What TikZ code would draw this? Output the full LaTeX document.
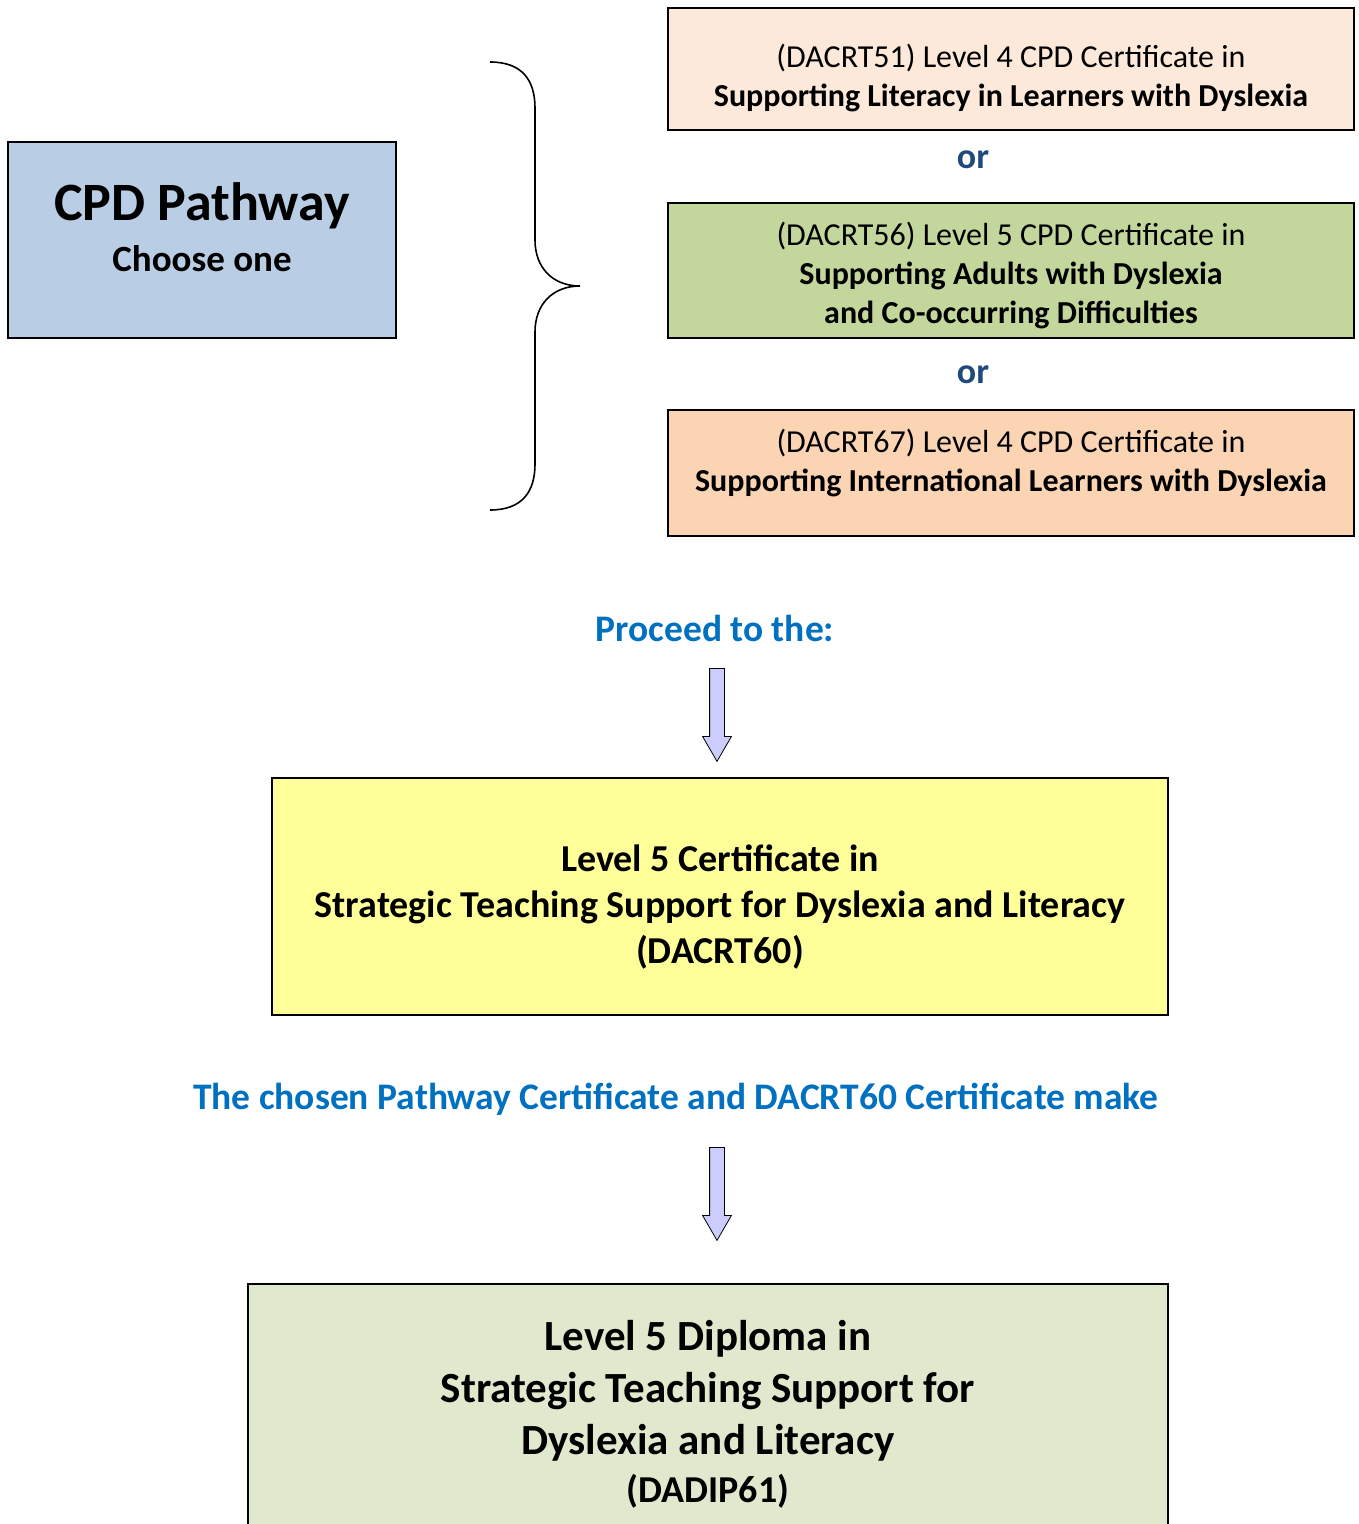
\documentclass[tikz,border=0pt]{standalone}
\usepackage{fontspec}
\setmainfont{Carlito}
\usetikzlibrary{shapes.arrows}
\definecolor{pathblue}{HTML}{B9CDE4}
\definecolor{peach}{HTML}{FDE9DA}
\definecolor{olive}{HTML}{C3D69B}
\definecolor{apricot}{HTML}{FBD4B4}
\definecolor{lemon}{HTML}{FFFF99}
\definecolor{sage}{HTML}{E0E9CD}
\definecolor{ordark}{HTML}{1F497D}
\definecolor{linkblue}{HTML}{0070C0}
\definecolor{lavender}{HTML}{CCCCFF}
\tikzset{
        box/.style={draw=black, line width=1.6pt, inner sep=0pt},
        certbox/.style={box, minimum width=686pt},
        boxtext/.style={align=center, inner sep=0pt},
        certtext/.style={boxtext, font=\fontsize{32}{39}\selectfont},
        ortext/.style={text=ordark, font=\fontsize{36}{40}\selectfont\bfseries},
        bluetext/.style={text=linkblue, font=\fontsize{37.5}{44}\selectfont\bfseries},
        downarrow/.style={single arrow, draw=black, line width=0.8pt, fill=lavender, rotate=-90,
          minimum height=93pt, minimum width=28pt, single arrow head extend=7pt,
          single arrow tip angle=60, inner sep=7pt},
        bracepath/.style={draw=black, line width=1.6pt}
          }
\begin{document}
\begin{tikzpicture}[x=1pt, y=-1pt]
        \useasboundingbox (0,0) rectangle (1358,1524);
        % pathway box on the left
        \node[box, fill=pathblue, minimum width=388pt, minimum height=196pt] (cpd) at (202,240) {};
        \node[boxtext] (cpdtext) at (202,227)
          {\fontsize{54}{56}\selectfont\bfseries CPD Pathway\\[15pt]
           \fontsize{37}{44}\selectfont\bfseries Choose one};
        % the three certificates
        \node[certbox, fill=peach, minimum height=122pt] (dacrt51) at (1011,69) {};
        \node[certtext] (dacrt51text) at (1011,78)
          {(DACRT51) Level 4 CPD Certificate in\\
           \bfseries Supporting Literacy in Learners with Dyslexia};
        \node[ortext] (or1) at (973,160) {or};
        \node[certbox, fill=olive, minimum height=135pt] (dacrt56) at (1011,270.5) {};
        \node[certtext] (dacrt56text) at (1011,275.5)
          {(DACRT56) Level 5 CPD Certificate in\\
           \bfseries Supporting Adults with Dyslexia\\
           \bfseries and Co-occurring Difficulties};
        \node[ortext] (or2) at (973,375) {or};
        \node[certbox, fill=apricot, minimum height=126pt] (dacrt67) at (1011,473) {};
        \node[certtext] (dacrt67text) at (1011,463)
          {(DACRT67) Level 4 CPD Certificate in\\
           \bfseries Supporting International Learners with Dyslexia};
        % brace
        \coordinate (bracetop) at (490,62);
        \coordinate (bracetip) at (580,286);
        \coordinate (bracebot) at (490,510);
        \path[bracepath] (bracetop) .. controls (522,62) and (535,80) .. (535,108) -- (535,240)
          .. controls (535,268) and (553,286) .. (bracetip)
          .. controls (553,286) and (535,304) .. (535,332) -- (535,464)
          .. controls (535,492) and (522,510) .. (bracebot);
        % next step
        \node[bluetext] (proceed) at (715,628) {Proceed to the:};
        \node[downarrow] (arrow1) at (717,708.5) {};
        \node[box, fill=lemon, minimum width=896pt, minimum height=237pt] (dacrt60) at (720,896.5) {};
        \node[boxtext, font=\fontsize{38}{46}\selectfont\bfseries] (dacrt60text) at (720,907)
          {Level 5 Certificate in\\
           Strategic Teaching Support for Dyslexia and Literacy\\
           (DACRT60)};
        \node[bluetext] (chosen) at (676,1099) {The chosen Pathway Certificate and DACRT60 Certificate make};
        \node[downarrow] (arrow2) at (717,1187.5) {};
        \node[box, fill=sage, minimum width=920pt, minimum height=250pt, anchor=north] (dadip61) at (708,1283) {};
        \node[boxtext, font=\fontsize{43}{52}\selectfont\bfseries] (dadip61text) at (708,1414)
          {Level 5 Diploma in\\
           Strategic Teaching Support for\\
           Dyslexia and Literacy\\[-4pt]
           \fontsize{38}{48}\selectfont (DADIP61)};
\end{tikzpicture}
\end{document}
